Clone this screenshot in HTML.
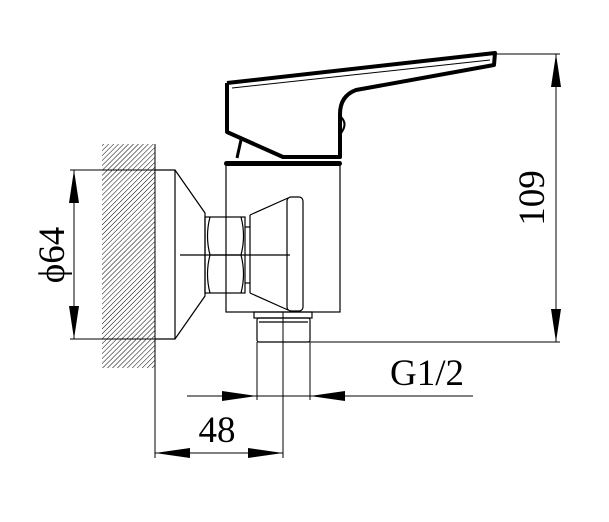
<!DOCTYPE html>
<html><head><style>
html,body{margin:0;padding:0;background:#fff;}
svg{display:block;}
text{font-family:"Liberation Serif",serif;fill:#000;}
</style></head><body>
<svg width="609" height="522" viewBox="0 0 609 522" xmlns="http://www.w3.org/2000/svg">
<defs>
<pattern id="h" patternUnits="userSpaceOnUse" width="3.5" height="3.5" patternTransform="rotate(45)">
<line x1="0" y1="0" x2="0" y2="3.5" stroke="#000" stroke-width="1"/>
</pattern>
</defs>
<!-- wall hatch -->
<rect x="102" y="144" width="53" height="224" fill="url(#h)"/>
<line x1="155" y1="144" x2="155" y2="368" stroke="#000" stroke-width="1"/>
<g fill="none" stroke="#000" stroke-width="1.2">
<!-- escutcheon -->
<path d="M155,170 H175 L205,213 V296 L175,339 H155"/>
<line x1="175" y1="170" x2="175" y2="339"/>
<!-- nut -->
<rect x="205" y="217" width="40" height="76"/>
<path d="M210,217 Q205,236 210,255 Q205,274 210,293 M241,217 Q246,236 241,255 Q246,274 241,293 M210,255 H241"/>
<!-- body -->
<rect x="226" y="162" width="114" height="150"/>
<!-- cartridge -->
<path d="M250,215 L288,198 M250,293 L288,310"/>
<line x1="250" y1="215" x2="250" y2="293"/>
<line x1="245" y1="227" x2="250" y2="227"/><line x1="245" y1="283" x2="250" y2="283"/>
<rect x="287" y="197" width="16" height="114" rx="4"/>
<line x1="180" y1="255" x2="290" y2="255"/>
<!-- thread -->
<rect x="254" y="312" width="58" height="6"/>
<rect x="257" y="318" width="53" height="24" rx="2"/>
<line x1="259" y1="322" x2="308" y2="322"/>
</g>
<!-- top ring -->
<rect x="224" y="161" width="118" height="5" rx="2.5" fill="#000"/>
<!-- handle -->
<g fill="none" stroke="#000" stroke-linejoin="round">
<path d="M227,83 V132 L283,157 H340 V114 Q340,96 356,90 L494,65 L495,53 L227,83" stroke-width="4"/>
<path d="M232,88 L490,60" stroke-width="1"/>
<path d="M237,158 L241,140" stroke-width="3"/>
<path d="M341,117 Q348,124 341,133" stroke-width="2"/>
</g>
<!-- dimension lines -->
<g stroke="#000" stroke-width="1" fill="none">
<line x1="70" y1="170" x2="175" y2="170"/>
<line x1="70" y1="339" x2="155" y2="339"/>
<line x1="74" y1="170" x2="74" y2="339"/>
<line x1="495" y1="54" x2="560" y2="54"/>
<line x1="310" y1="342" x2="560" y2="342"/>
<line x1="556" y1="54" x2="556" y2="342"/>
<line x1="257" y1="342" x2="257" y2="400"/>
<line x1="310" y1="342" x2="310" y2="400"/>
<line x1="187" y1="396" x2="473" y2="396"/>
<line x1="155" y1="339" x2="155" y2="458"/>
<line x1="283" y1="312" x2="283" y2="458"/>
<line x1="155" y1="453" x2="283" y2="453"/>
</g>
<g fill="#000">
<path d="M74,170 L69,203 L79,203Z M74,339 L69,306 L79,306Z"/>
<path d="M556,54 L551,87 L561,87Z M556,342 L551,309 L561,309Z"/>
<path d="M257,396 L222,391 L222,401Z M310,396 L345,391 L345,401Z"/>
<path d="M155,453 L190,448 L190,458Z M283,453 L248,448 L248,458Z"/>
</g>
<text x="0" y="0" font-size="37" text-anchor="middle" transform="translate(64,255) rotate(-90)">ϕ64</text>
<text x="0" y="0" font-size="37" text-anchor="middle" transform="translate(544,198) rotate(-90)">109</text>
<text x="427" y="385" font-size="37" text-anchor="middle">G1/2</text>
<text x="217" y="442" font-size="37" text-anchor="middle">48</text>
</svg>
</body></html>
